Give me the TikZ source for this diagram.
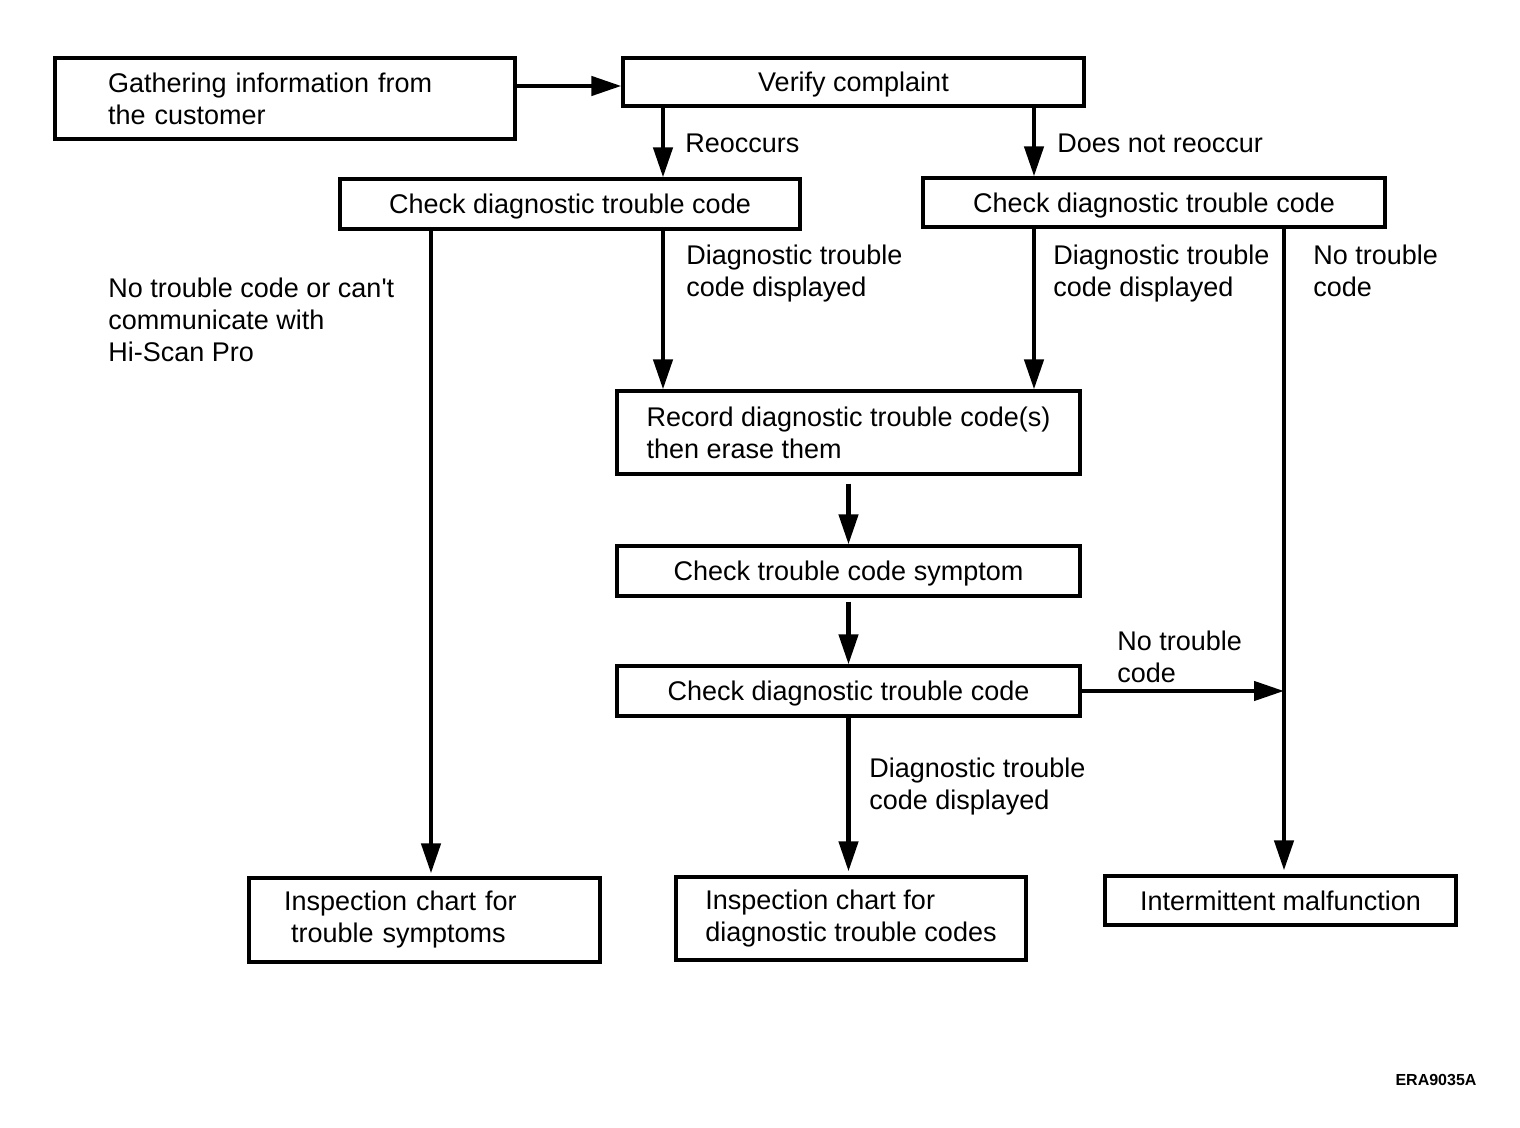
\documentclass[tikz,border=0pt]{standalone}
\usepackage{fontspec}
\setmainfont{Liberation Sans}
\usetikzlibrary{arrows.meta}
\begin{document}
\begin{tikzpicture}[x=0.5pt,y=-0.5pt,
  box/.style={draw, line width=1.6pt, inner sep=0pt, font=\fontsize{13.5}{16}\selectfont},
  one/.style={text height=9.7pt, text depth=0pt},
  lbl/.style={inner sep=0pt, anchor=west, align=left, font=\fontsize{13.5}{16}\selectfont},
  arr/.style={line width=2.2pt, -{Triangle[length=15pt,width=9.5pt]}},
  ln/.style={line width=2.2pt}]
\useasboundingbox (0,0) rectangle (1520,1128);
% boxes
\node[box, minimum width=230pt, minimum height=40.5pt, text width=177pt, align=left] (A) at (285,98.5)
  {Gathering information from\\the customer};
\node[box, one, minimum width=230.5pt, minimum height=24pt] (B) at (853.5,82) {Verify complaint};
\node[box, one, minimum width=230pt, minimum height=25pt] (C1) at (570,204) {Check diagnostic trouble code};
\node[box, one, minimum width=231pt, minimum height=24.5pt] (C2) at (1154,202.5) {Check diagnostic trouble code};
\node[box, minimum width=231.5pt, minimum height=41.5pt, align=left] (R) at (848.5,432.5)
  {Record diagnostic trouble code(s)\\then erase them};
\node[box, one, minimum width=231.5pt, minimum height=25pt] (S) at (848.5,571) {Check trouble code symptom};
\node[box, one, minimum width=231.5pt, minimum height=25pt] (T) at (848.5,691) {Check diagnostic trouble code};
\node[box, minimum width=175.5pt, minimum height=42pt, text width=140.5pt, align=left] (I1) at (424.5,920)
  {Inspection chart for\\\hspace*{3.5pt}trouble symptoms};
\node[box, minimum width=175pt, minimum height=41.5pt, align=left] (I2) at (851,918.5)
  {Inspection chart for\\diagnostic trouble codes};
\node[box, one, minimum width=175.5pt, minimum height=24.5pt] (I3) at (1280.5,900.5) {Intermittent malfunction};
% labels
\node[lbl] (l1) at (685,143) {Reoccurs};
\node[lbl] (l2) at (1057,143) {Does not reoccur};
\node[lbl] (l3) at (108,320) {No trouble code or can\textquotesingle t\\communicate with\\Hi-Scan Pro};
\node[lbl] (l4) at (686,274) {Diagnostic trouble\\code displayed};
\node[lbl] (l5) at (1053,274) {Diagnostic trouble\\code displayed};
\node[lbl] (l6) at (1313,271) {No trouble\\code};
\node[lbl] (l7) at (1117,657) {No trouble\\code};
\node[lbl] (l8) at (869,787) {Diagnostic trouble\\code displayed};
\node[inner sep=0pt, font=\bfseries\fontsize{8}{9.6}\selectfont] (code) at (1436,1080) {ERA9035A};
% helper coordinates
\coordinate (ay) at (0,86);
\coordinate (xa) at (663,0);
\coordinate (xb) at (1034,0);
\coordinate (xc) at (431,0);
\coordinate (xd) at (1284,0);
% connectors
\draw[arr] (A.east |- ay) -- (B.west |- ay);
\draw[arr] (B.south -| xa) -- (C1.north -| xa);
\draw[arr] (B.south -| xb) -- (C2.north -| xb);
\draw[arr, shorten >=1.5pt] (C1.south -| xc) -- (I1.north -| xc);
\draw[arr] (C1.south -| xa) -- (R.north -| xa);
\draw[arr] (C2.south -| xb) -- (R.north -| xb);
\draw[arr, shorten >=2pt] (C2.south -| xd) -- (I3.north -| xd);
\draw[arr, shorten <=4pt] (R.south) -- (S.north);
\draw[arr, shorten <=2pt] (S.south) -- (T.north);
\draw[arr, shorten >=2pt] (T.south) -- (T.south |- I2.north);
\draw[arr] (T.east) -- (T.east -| xd);
\end{tikzpicture}
\end{document}
